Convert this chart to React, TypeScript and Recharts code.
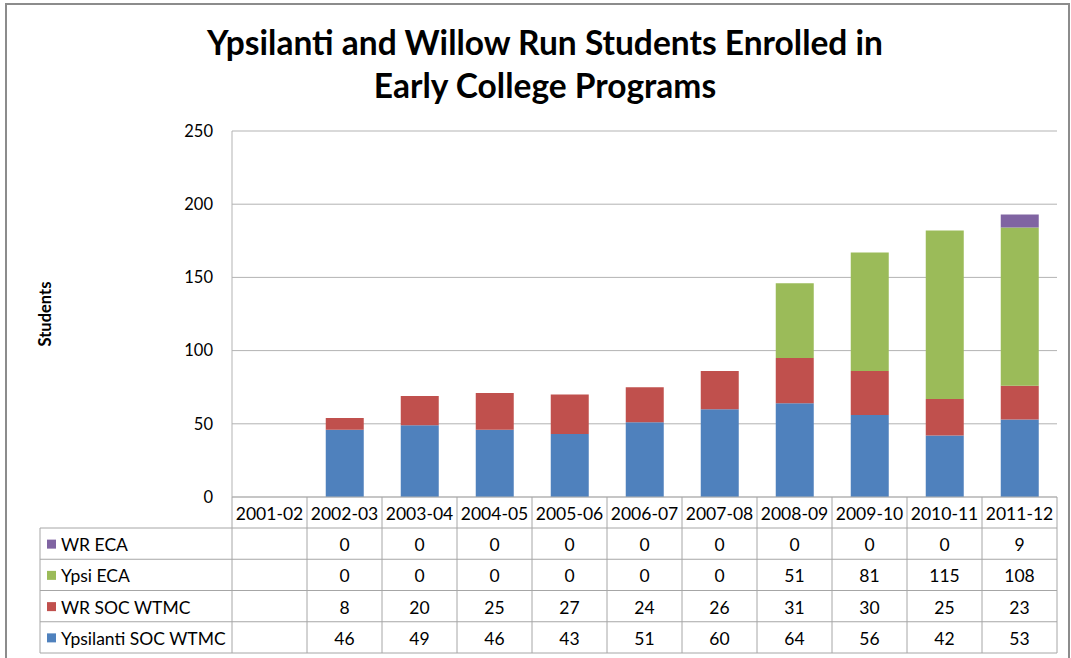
import { BarChart, Bar, XAxis, YAxis, CartesianGrid } from 'recharts'

const categories = ['2001-02', '2002-03', '2003-04', '2004-05', '2005-06', '2006-07', '2007-08', '2008-09', '2009-10', '2010-11', '2011-12']
const ypsiSocWtmc = [null, 46, 49, 46, 43, 51, 60, 64, 56, 42, 53]
const wrSocWtmc = [null, 8, 20, 25, 27, 24, 26, 31, 30, 25, 23]
const ypsiEca = [null, 0, 0, 0, 0, 0, 0, 51, 81, 115, 108]
const wrEca = [null, 0, 0, 0, 0, 0, 0, 0, 0, 0, 9]
const yTicks = [0, 50, 100, 150, 200, 250]

// table rows top to bottom (reverse of stacking order)
const series = [
    { key: 'wrEca', name: 'WR ECA', color: '#8064A2', values: wrEca },
    { key: 'ypsiEca', name: 'Ypsi ECA', color: '#9BBB59', values: ypsiEca },
    { key: 'wrSoc', name: 'WR SOC WTMC', color: '#C0504D', values: wrSocWtmc },
    { key: 'ypsiSoc', name: 'Ypsilanti SOC WTMC', color: '#4F81BD', values: ypsiSocWtmc },
]

const data = categories.map((name, i) => {
    const row: Record<string, any> = { name }
    series.forEach((s) => {
        row[s.key] = s.values[i]
    })
    return row
})

const FONT = 'Lato, "Open Sans", sans-serif'
const CHART_W = 1071
const CHART_H = 658
const PLOT_LEFT = 232
const PLOT_RIGHT = 1057
const BAND = (PLOT_RIGHT - PLOT_LEFT) / categories.length
const TABLE_LEFT = 40
const HEADER_H = 31
const ROW_H = 31.25
const GRID = '#b3b3b3'
const BORDER = '#a6a6a6'
const TABLE_FONT = 17.5

function TableTick(props: any) {
    const { x, y, payload } = props
    const i = payload.index ?? props.index
    const left = x - BAND / 2
    const right = x + BAND / 2
    const bottom = y + HEADER_H + ROW_H * series.length
    return (
        <g>
            <line x1={left} y1={y} x2={left} y2={bottom} stroke={BORDER} />
            {i === categories.length - 1 && <line x1={right} y1={y} x2={right} y2={bottom} stroke={BORDER} />}
            <text x={x} y={y + HEADER_H / 2 + 1} textAnchor="middle" dominantBaseline="central" fontFamily={FONT} fontSize={TABLE_FONT} fill="#000">
                {payload.value}
            </text>
            {series.map((s, r) => (
                <text
                    key={s.key}
                    x={x}
                    y={y + HEADER_H + ROW_H * r + ROW_H / 2 + 1}
                    textAnchor="middle"
                    dominantBaseline="central"
                    fontFamily={FONT}
                    fontSize={TABLE_FONT}
                    fill="#000"
                >
                    {s.values[i] ?? ''}
                </text>
            ))}
            {i === 0 && (
                <g>
                    {series.map((s, r) => (
                        <line
                            key={s.key}
                            x1={TABLE_LEFT}
                            y1={y + HEADER_H + ROW_H * r}
                            x2={PLOT_RIGHT}
                            y2={y + HEADER_H + ROW_H * r}
                            stroke={BORDER}
                        />
                    ))}
                    <line x1={TABLE_LEFT} y1={bottom} x2={PLOT_RIGHT} y2={bottom} stroke={BORDER} />
                    <line x1={TABLE_LEFT} y1={y + HEADER_H} x2={TABLE_LEFT} y2={bottom} stroke={BORDER} />
                    {series.map((s, r) => {
                        const cy = y + HEADER_H + ROW_H * r + ROW_H / 2
                        return (
                            <g key={s.key}>
                                <rect x={47} y={cy - 4} width={9} height={9} fill={s.color} />
                                <text x={61} y={cy + 1} dominantBaseline="central" fontFamily={FONT} fontSize={TABLE_FONT} fill="#000">
                                    {s.name}
                                </text>
                            </g>
                        )
                    })}
                </g>
            )}
        </g>
    )
}

export default function App() {
    return (
        <div style={{ position: 'absolute', left: 0, top: 0, width: CHART_W, height: CHART_H, overflow: 'hidden', background: '#fff' }}>
            <div
                style={{
                    position: 'absolute',
                    left: 5,
                    top: 3,
                    width: 1061,
                    height: 700,
                    border: '2px solid #8c8c8c',
                }}
            />
            <div
                style={{
                    position: 'absolute',
                    left: 0,
                    top: 21,
                    width: 1090,
                    textAlign: 'center',
                    fontFamily: FONT,
                    fontWeight: 700,
                    fontSize: 33.5,
                    lineHeight: '43px',
                    color: '#000',
                }}
            >
                Ypsilanti and Willow Run Students Enrolled in
                <br />
                Early College Programs
            </div>
            <div style={{ position: 'absolute', left: 0, top: 0 }}>
                <BarChart
                    width={CHART_W}
                    height={CHART_H}
                    data={data}
                    margin={{ top: 131, right: CHART_W - PLOT_RIGHT, left: 0, bottom: 5 }}
                    barCategoryGap="25%"
                >
                    <CartesianGrid vertical={false} stroke={GRID} />
                    <YAxis
                        width={PLOT_LEFT}
                        domain={[0, 250]}
                        ticks={yTicks}
                        interval={0}
                        axisLine={{ stroke: GRID }}
                        tickLine={false}
                        tickSize={0}
                        tickMargin={19}
                        tick={{ fill: '#000', fontSize: 16.5, fontFamily: FONT }}
                        label={{
                            value: 'Students',
                            angle: -90,
                            position: 'insideLeft',
                            offset: 45,
                            style: { textAnchor: 'middle', fontFamily: FONT, fontWeight: 700, fontSize: 16.5, fill: '#000' },
                        }}
                    />
                    <XAxis
                        dataKey="name"
                        height={HEADER_H + ROW_H * series.length}
                        interval={0}
                        axisLine={{ stroke: GRID }}
                        tickLine={false}
                        tickSize={0}
                        tickMargin={0}
                        tick={<TableTick />}
                    />
                    {[...series].reverse().map((s) => (
                        <Bar key={s.key} dataKey={s.key} name={s.name} stackId="a" fill={s.color} isAnimationActive={false} />
                    ))}
                </BarChart>
            </div>
        </div>
    )
}
